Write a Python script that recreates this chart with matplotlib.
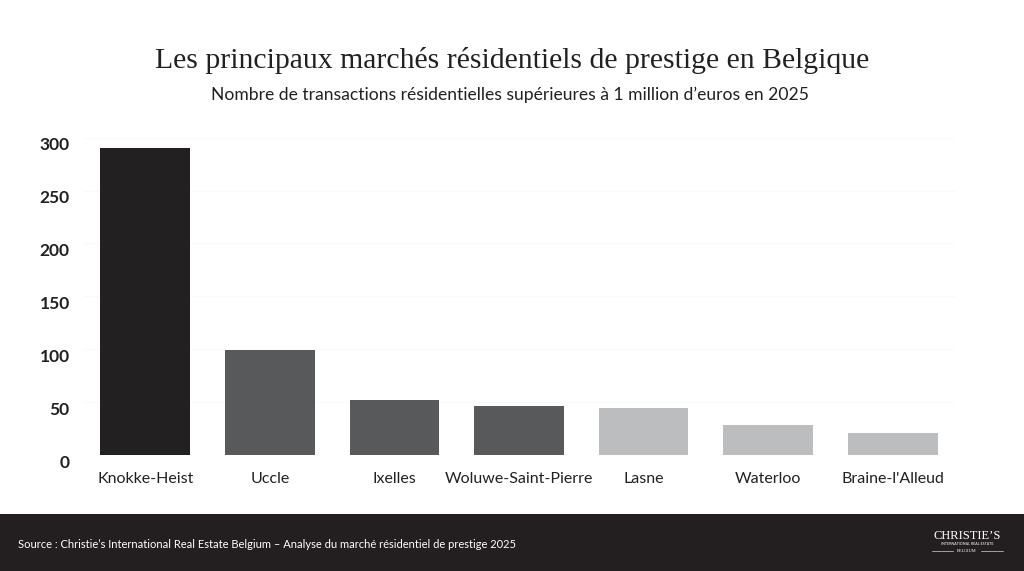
import matplotlib
matplotlib.use("Agg")
import matplotlib.pyplot as plt
from matplotlib.patches import Rectangle
from matplotlib.transforms import ScaledTranslation

categories = ["Knokke-Heist", "Uccle", "Ixelles", "Woluwe-Saint-Pierre", "Lasne", "Waterloo", "Braine-l'Alleud"]
values = [290, 99, 52, 46, 44, 28, 21]
bar_colors = ["#222021", "#58595b", "#58595b", "#58595b", "#bcbdbf", "#bcbdbf", "#bcbdbf"]
yticks = [0, 50, 100, 150, 200, 250, 300]

title = "Les principaux marchés résidentiels de prestige en Belgique"
subtitle = "Nombre de transactions résidentielles supérieures à 1 million d’euros en 2025"
source = "Source : Christie’s International Real Estate Belgium – Analyse du marché résidentiel de prestige 2025"

W, H = 1024, 571
fig = plt.figure(figsize=(W / 100, H / 100), dpi=100)
fig.patch.set_facecolor("white")

# axes: x 83..955, y (0 at 455, 300 at 137.6)
x0, x1 = 83, 955
ybot, ytop = 455, 137.6
ax = fig.add_axes([x0 / W, 1 - ybot / H, (x1 - x0) / W, (ybot - ytop) / H])
ax.set_xlim(-0.5, len(categories) - 0.5)
ax.set_ylim(0, 300)
xs = list(range(len(categories)))
ax.bar(xs, values, width=0.72, color=bar_colors, zorder=3)
ax.set_yticks(yticks)
ax.set_yticklabels([str(v) for v in yticks], fontsize=12.5, fontfamily="Lato",
                   fontweight="bold", color="#222021")
ax.set_xticks(xs)
ax.set_xticklabels(categories, fontsize=11.5, fontfamily="Lato", color="#222021")
ax.tick_params(axis="y", length=0, pad=9.5)
ax.tick_params(axis="x", length=0, pad=12)
offset = ScaledTranslation(0, -6 / 100, fig.dpi_scale_trans)
for lbl in ax.get_yticklabels():
    lbl.set_transform(lbl.get_transform() + offset)
for s in ax.spines.values():
    s.set_visible(False)
ax.grid(axis="y", color="#fafafa", linewidth=0.8, zorder=0)
ax.axhline(0, color="#f3f3f3", linewidth=0.8, zorder=1)

fig.text(512 / W, 1 - 60 / H, title, ha="center", va="center", fontsize=21.4,
         fontfamily="Liberation Serif", color="#222021")
fig.text(510 / W, 1 - 95 / H, subtitle, ha="center", va="center", fontsize=12.6,
         fontfamily="Lato", color="#222021")

# footer band
fig.patches.append(Rectangle((0, 0), 1, (H - 514) / H, transform=fig.transFigure,
                             facecolor="#231f20", edgecolor="none", zorder=0))
fig.text(18 / W, 1 - 544 / H, source, ha="left", va="center", fontsize=8.0,
         fontfamily="Lato", color="white")
# logo
fig.text(967 / W, 1 - 536 / H, "CHRISTIE’S", ha="center", va="center", fontsize=9,
         fontfamily="Liberation Serif", color="white")
fig.text(967 / W, 1 - 544 / H, "INTERNATIONAL REAL ESTATE", ha="center", va="center",
         fontsize=2.6, fontfamily="Lato", color="white")
fig.text(967 / W, 1 - 551 / H, "BELGIUM", ha="center", va="center", fontsize=3.2,
         fontfamily="Liberation Serif", color="white")
fig.lines.append(plt.Line2D([932 / W, 953 / W], [1 - 551 / H] * 2, transform=fig.transFigure,
                            color="white", linewidth=0.4))
fig.lines.append(plt.Line2D([981 / W, 1003 / W], [1 - 551 / H] * 2, transform=fig.transFigure,
                            color="white", linewidth=0.4))

fig.savefig("out.png", dpi=100, facecolor="white")
